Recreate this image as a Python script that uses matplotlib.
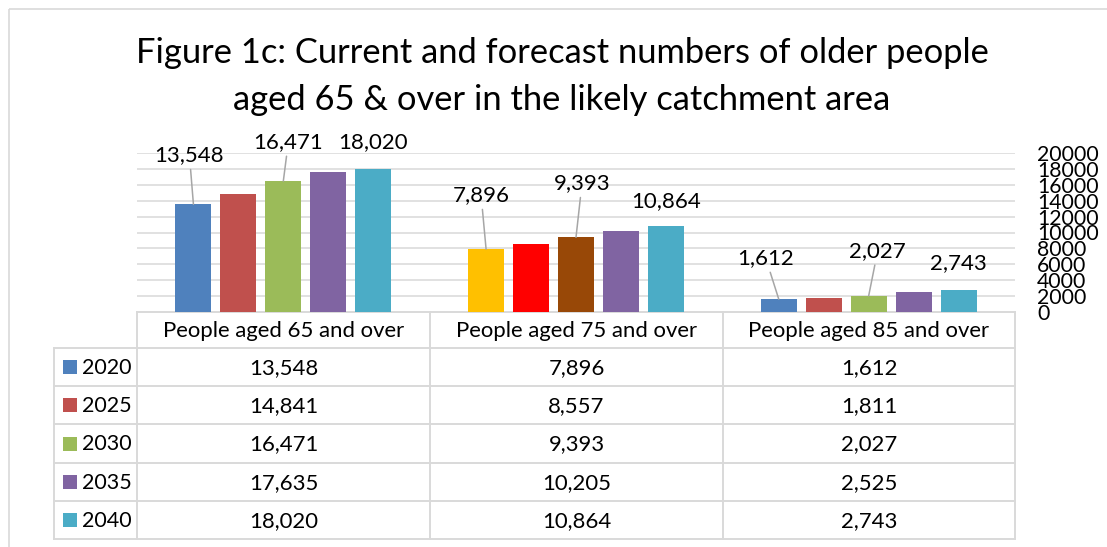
import matplotlib
matplotlib.use("Agg")
import matplotlib.pyplot as plt
import numpy as np
from matplotlib.patches import Rectangle

plt.rcParams["font.family"] = ["Lato", "DejaVu Sans"]

W, H = 1107, 547

categories = ["People aged 65 and over", "People aged 75 and over", "People aged 85 and over"]
years = ["2020", "2025", "2030", "2035", "2040"]
v2020 = [13548, 7896, 1612]
v2025 = [14841, 8557, 1811]
v2030 = [16471, 9393, 2027]
v2035 = [17635, 10205, 2525]
v2040 = [18020, 10864, 2743]
series = [v2020, v2025, v2030, v2035, v2040]

year_colors = ["#4F81BD", "#C0504D", "#9BBB59", "#8064A2", "#4BACC6"]
# the 75+ group has its own fills for the first three years
point_colors = {(1, 0): "#FFC000", (1, 1): "#FF0000", (1, 2): "#984807"}

# which series get a data label, and where the label sits (px from bar top)
labelled = [0, 2, 4]
label_offsets = [
    [(-4, 49), (5, 39), (0, 27)],
    [(-5, 54), (6, 54), (0, 25)],
    [(-13, 41), (9, 45), (0, 27)],
]

GRID = "#D9D9D9"
TEXT = "#000000"

# plot area in pixels (top-down)
px_left, px_right = 137, 1015
px_top, px_bottom = 153, 312
row_edges = [312, 348, 386, 424, 463, 501, 539]
col_edges = [54, 137, 430, 723, 1015]


def fig_box(x0, y0, x1, y1):
    return [x0 / W, 1 - y1 / H, (x1 - x0) / W, (y1 - y0) / H]


fig = plt.figure(figsize=(W / 100, H / 100), dpi=100)
fig.patch.set_facecolor("white")

canvas = fig.add_axes([0, 0, 1, 1])
canvas.set_xlim(0, W)
canvas.set_ylim(H, 0)
canvas.axis("off")

# chart frame
canvas.add_patch(Rectangle((9, 9), W + 20, H + 20, fill=False, edgecolor=GRID, linewidth=1.2))

canvas.text(562, 63, "Figure 1c: Current and forecast numbers of older people",
            fontsize=24.8, ha="center", va="baseline", color=TEXT)
canvas.text(562, 110, "aged 65 & over in the likely catchment area",
            fontsize=24.8, ha="center", va="baseline", color=TEXT)

# data table
lw_tab = 1.4
canvas.plot([px_left, px_right], [row_edges[0]] * 2, color=GRID, lw=lw_tab)
for y in row_edges[1:]:
    canvas.plot([col_edges[0], px_right], [y, y], color=GRID, lw=lw_tab)
canvas.plot([col_edges[0]] * 2, [row_edges[1], row_edges[-1]], color=GRID, lw=lw_tab)
for x in col_edges[1:]:
    canvas.plot([x, x], [row_edges[0], row_edges[-1]], color=GRID, lw=lw_tab)

for c, name in enumerate(categories):
    cx = (col_edges[c + 1] + col_edges[c + 2]) / 2
    canvas.text(cx, (row_edges[0] + row_edges[1]) / 2 + 1, name, fontsize=15.9,
                ha="center", va="center", color=TEXT)
    for r, vals in enumerate(series):
        cy = (row_edges[r + 1] + row_edges[r + 2]) / 2 + 1
        canvas.text(cx, cy, f"{vals[c]:,}", fontsize=15.9, ha="center", va="center", color=TEXT)

for r, yr in enumerate(years):
    cy = (row_edges[r + 1] + row_edges[r + 2]) / 2
    canvas.add_patch(Rectangle((63, cy - 7), 14, 14, facecolor=year_colors[r], edgecolor="none"))
    canvas.text(82, cy + 1, yr, fontsize=15.5, ha="left", va="center", color=TEXT)

# bars
ax = fig.add_axes(fig_box(px_left, px_top, px_right, px_bottom))
ax.patch.set_alpha(0)
x = np.arange(len(categories))
step = 0.1536
width = 0.123
for s, vals in enumerate(series):
    xs = x + (s - 2) * step
    cols = [point_colors.get((c, s), year_colors[s]) for c in range(len(categories))]
    ax.bar(xs, vals, width=width, color=cols, zorder=3)

ax.set_xlim(-0.5, 2.5)
ax.set_ylim(0, 20000)
ax.set_yticks(range(0, 20001, 2000))
ax.set_yticklabels([str(v) for v in range(0, 20001, 2000)])
ax.yaxis.set_ticks_position("right")
ax.tick_params(axis="y", length=0, pad=16, labelsize=15.3, colors=TEXT)
ax.set_xticks([])
for sp in ax.spines.values():
    sp.set_visible(False)
for g in range(2000, 20001, 2000):
    ax.axhline(g, color=GRID, lw=1.1, zorder=1)

pt = 72 / 100
for c in range(len(categories)):
    for k, s in enumerate(labelled):
        dx, dy = label_offsets[c][k]
        val = series[s][c]
        arrow = dict(arrowstyle="-", color="#A6A6A6", lw=1.1, shrinkA=1, shrinkB=0) if s != 4 else None
        ax.annotate(f"{val:,}", xy=(x[c] + (s - 2) * step, val),
                    xytext=(dx * pt, dy * pt), textcoords="offset points",
                    ha="center", va="center", fontsize=16, color=TEXT,
                    arrowprops=arrow, annotation_clip=False, zorder=4)

fig.savefig("out.png", dpi=100, facecolor=fig.get_facecolor())
